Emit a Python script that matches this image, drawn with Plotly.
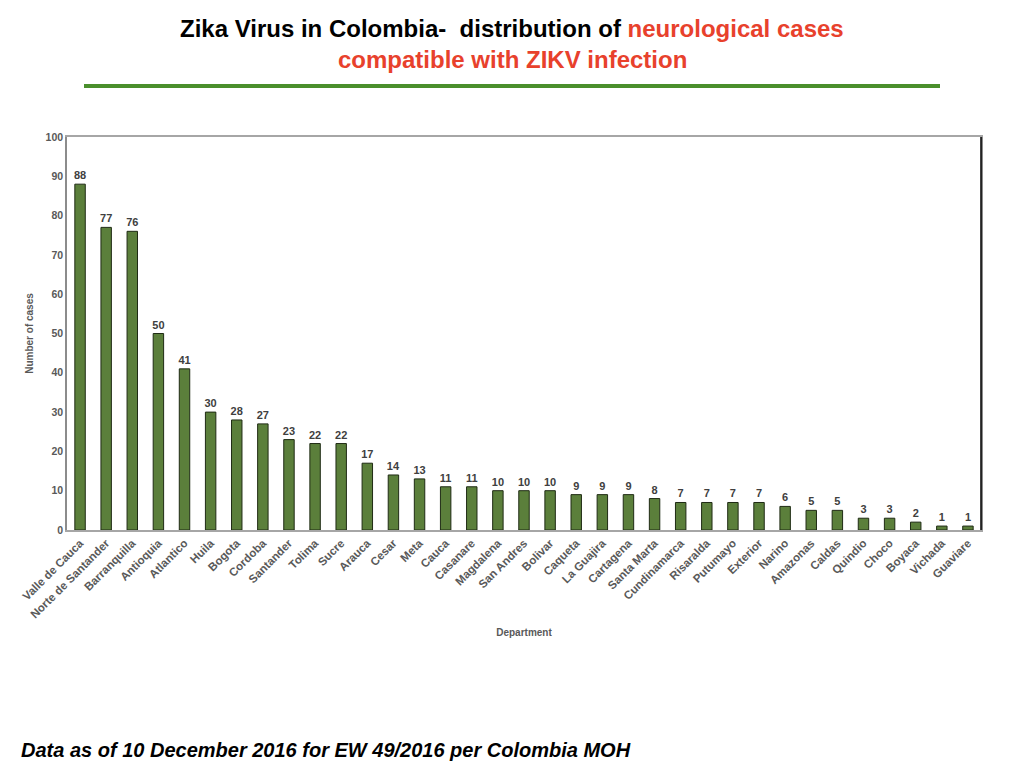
import plotly.graph_objects as go

departments = ["Valle de Cauca", "Norte de Santander", "Barranquilla", "Antioquia", "Atlantico",
               "Huila", "Bogota", "Cordoba", "Santander", "Tolima", "Sucre", "Arauca", "Cesar",
               "Meta", "Cauca", "Casanare", "Magdalena", "San Andres", "Bolivar", "Caqueta",
               "La Guajira", "Cartagena", "Santa Marta", "Cundinamarca", "Risaralda", "Putumayo",
               "Exterior", "Narino", "Amazonas", "Caldas", "Quindio", "Choco", "Boyaca",
               "Vichada", "Guaviare"]
cases = [88, 77, 76, 50, 41, 30, 28, 27, 23, 22, 22, 17, 14, 13, 11, 11, 10, 10, 10, 9,
         9, 9, 8, 7, 7, 7, 7, 6, 5, 5, 3, 3, 2, 1, 1]

sans = "Liberation Sans, Arial, Helvetica"
grey = "#595959"

fig = go.Figure(go.Bar(
    x=departments, y=cases,
    marker=dict(color="#5b7f3b", line=dict(color="#1f2b14", width=1)),
    text=cases, textposition="outside", cliponaxis=False,
    textfont=dict(family=sans, size=11, color="#404040", weight="bold"),
    hoverinfo="skip",
))

fig.update_layout(
    width=1024, height=768,
    paper_bgcolor="white", plot_bgcolor="white",
    margin=dict(l=59, r=51, t=129, b=246),
    bargap=0.6, showlegend=False,
    font=dict(family=sans),
    uniformtext=dict(minsize=11, mode="show"),
)
fig.update_xaxes(
    tickangle=-45, tickfont=dict(family=sans, size=11.5, color=grey, weight="bold"),
    showline=True, linecolor="#a6a6a6", linewidth=2, mirror=True,
    ticks="", showgrid=False,
    title=dict(text="Department", font=dict(family=sans, size=10, color=grey, weight="bold"),
               standoff=9),
)
fig.update_yaxes(
    range=[0, 100], dtick=10,
    tickfont=dict(family=sans, size=10.5, color=grey, weight="bold"),
    showline=True, linecolor="#8c8c8c", linewidth=1.5, mirror=True,
    ticks="", showgrid=False, zeroline=False,
    title=dict(text="Number of cases", font=dict(family=sans, size=10, color=grey, weight="bold"),
               standoff=10),
)

# black right border of the plot box
fig.add_shape(type="line", xref="paper", yref="paper", x0=1, x1=1, y0=0, y1=1,
              line=dict(color="black", width=1.5))

# title
fig.add_annotation(
    xref="paper", yref="paper", x=0.487, y=1.277, xanchor="center", yanchor="middle",
    showarrow=False,
    text="<b>Zika Virus in Colombia‑  distribution of "
         "<span style='color:#e8412c'>neurological cases</span></b>",
    font=dict(family=sans, size=24, color="black"),
)
fig.add_annotation(
    xref="paper", yref="paper", x=0.487, y=1.196, xanchor="center", yanchor="middle",
    showarrow=False,
    text="<b>compatible with ZIKV infection</b>",
    font=dict(family=sans, size=24, color="#e8412c"),
)
fig.add_shape(type="line", xref="paper", yref="paper",
              x0=(84 - 67) / 914, x1=(940 - 67) / 914, y0=1.130, y1=1.130,
              line=dict(color="#4a8f2c", width=4))

# footer
fig.add_annotation(
    xref="paper", yref="paper", x=-0.052, y=-0.56, xanchor="left", yanchor="middle",
    showarrow=False,
    text="<b><i>Data as of 10 December 2016 for EW 49/2016 per Colombia MOH</i></b>",
    font=dict(family=sans, size=20, color="black"),
)

fig.write_html("out.html")
